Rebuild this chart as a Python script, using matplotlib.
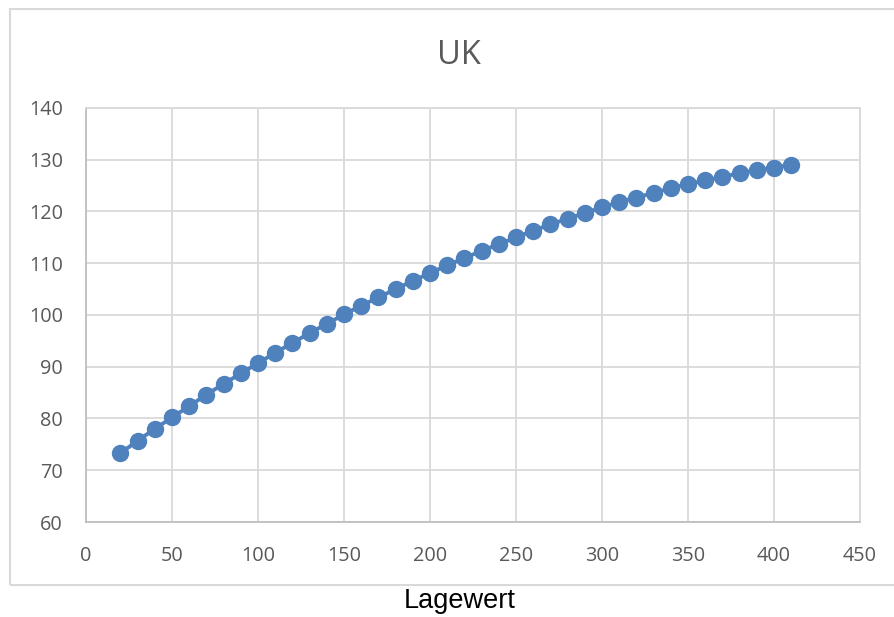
import matplotlib
matplotlib.use("Agg")
import matplotlib.pyplot as plt
from matplotlib.patches import Rectangle

x_values = [20, 30, 40, 50, 60, 70, 80, 90, 100, 110, 120, 130, 140, 150, 160, 170, 180, 190, 200,
            210, 220, 230, 240, 250, 260, 270, 280, 290, 300, 310, 320, 330, 340, 350, 360, 370,
            380, 390, 400, 410]
y_values = [73.3, 75.7, 78.0, 80.2, 82.4, 84.6, 86.7, 88.7, 90.7, 92.7, 94.6, 96.5, 98.3, 100.1,
            101.8, 103.4, 105.0, 106.6, 108.1, 109.6, 111.0, 112.4, 113.7, 115.0, 116.3, 117.5,
            118.6, 119.7, 120.8, 121.8, 122.7, 123.6, 124.5, 125.3, 126.0, 126.7, 127.4, 128.0,
            128.5, 129.0]
x_ticks = [0, 50, 100, 150, 200, 250, 300, 350, 400, 450]
y_ticks = [60, 70, 80, 90, 100, 110, 120, 130, 140]
title = "UK"
x_label = "Lagewert"

W, H = 895, 617
fig = plt.figure(figsize=(W / 100, H / 100), dpi=100)

# outer chart border (right edge falls outside the image)
fig.patches.append(Rectangle((10 / W, (H - 585) / H), (W + 20 - 10) / W, (585 - 9) / H,
                             transform=fig.transFigure, fill=False, edgecolor="#D9D9D9",
                             linewidth=1.5))

left, right, top, bottom = 86, 860, 108, 522
ax = fig.add_axes([left / W, (H - bottom) / H, (right - left) / W, (bottom - top) / H])

ax.plot(x_values, y_values, color="#4F81BD", linewidth=2.8, marker="o", markersize=11.5,
        markeredgecolor="#4F81BD", markerfacecolor="#4F81BD", zorder=3, clip_on=False)

ax.set_xlim(0, 450)
ax.set_ylim(60, 140)
ax.set_xticks(x_ticks)
ax.set_yticks(y_ticks)
ax.grid(True, color="#D9D9D9", linewidth=1.3)
ax.set_axisbelow(True)
for side in ["top", "right"]:
    ax.spines[side].set_color("#D9D9D9")
    ax.spines[side].set_linewidth(1.3)
for side in ["left", "bottom"]:
    ax.spines[side].set_color("#BFBFBF")
    ax.spines[side].set_linewidth(1.3)
ax.tick_params(length=0, labelsize=14.3, labelcolor="#595959")
ax.tick_params(axis="y", pad=16.5)
ax.tick_params(axis="x", pad=17.5)
for lab in ax.get_xticklabels() + ax.get_yticklabels():
    lab.set_fontfamily("Open Sans")

fig.text(459 / W, (H - 56) / H, title, ha="center", va="center",
         fontsize=23.5, color="#595959", family="Open Sans")
fig.text(459.5 / W, (H - 601) / H, x_label, ha="center", va="center", fontsize=19.5,
         color="black", family="Liberation Sans")

fig.savefig("out.png", dpi=100)
